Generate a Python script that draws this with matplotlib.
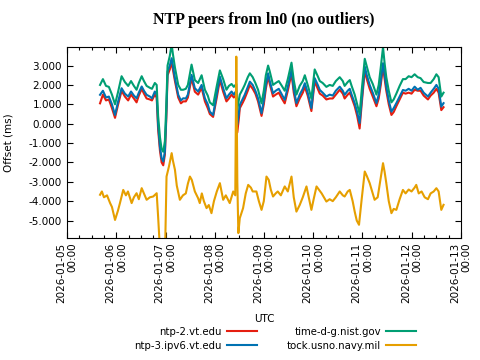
import matplotlib
matplotlib.use('Agg')
import matplotlib.pyplot as plt
import matplotlib.dates as mdates
import matplotlib.ticker as mticker
import numpy as np
import pandas as pd

start = pd.Timestamp('2026-01-05 00:00')

# hours after 2026-01-05 00:00 UTC for the vt.edu / nist samples
hours = [16.1, 17.5, 19.0, 20.4, 21.9, 23.4, 24.8, 26.6, 28.2, 29.8, 31.2, 32.6, 33.9, 35.0,
         36.4, 37.5, 38.8, 40.4, 41.4, 42.8, 43.7, 44.4, 45.3, 46.1, 46.9, 47.7, 48.4, 49.0,
         50.1, 51.0, 51.6, 52.6, 54.2, 55.5, 56.6, 57.9, 58.9, 60.7, 62.3, 63.9, 65.6, 67.2,
         68.6, 69.6, 71.2, 72.9, 74.5, 76.1, 77.7, 78.9, 80.2, 81.3, 82.5, 82.9, 83.7, 84.2,
         85.7, 86.6, 88.1, 89.1, 90.5, 91.8, 93.1, 94.8, 95.9, 96.9, 98.0, 98.8, 100.4, 101.7,
         103.2, 104.7, 106.1, 107.6, 109.4, 110.5, 111.8, 113.4, 114.9, 115.9, 117.3, 119.1,
         120.7, 122.2, 123.2, 124.6, 126.4, 128.0, 129.5, 131.0, 132.9, 134.4, 135.3, 136.8,
         137.8, 138.7, 140.2, 141.4, 142.6, 143.6, 145.1, 146.1, 147.5, 149.0, 150.8, 151.9,
         152.9, 154.0, 154.8, 155.6, 156.8, 158.1, 159.2, 160.5, 162.1, 163.7, 165.0, 166.5,
         167.9, 169.4, 170.9, 172.3, 173.8, 175.9, 177.2, 178.7, 180.0, 181.1, 182.4, 183.5]

ntp2 = [1.05, 1.5, 1.2, 1.25, 0.8, 0.3, 0.95, 1.7, 1.4, 1.2, 1.5, 1.3, 1.1, 1.45,
        1.8, 1.55, 1.3, 1.25, 1.2, 1.5, 1.35, -0.3, -1.4, -2.0, -2.15, -1.6, 0.3, 2.5,
        2.8, 3.2, 2.8, 2.2, 1.35, 1.05, 1.15, 1.15, 1.35, 2.35, 1.65, 1.5, 1.85, 1.15,
        0.8, 0.5, 0.35, 1.3, 2.25, 1.65, 1.15, 1.3, 1.5, 1.35, 1.5, -0.47, 0.2, 0.8,
        1.1, 1.3, 1.7, 2.0, 1.8, 1.55, 1.15, 0.4, 1.0, 1.8, 2.45, 2.05, 1.4, 1.5,
        1.6, 1.3, 1.05, 1.7, 2.6, 1.6, 0.9, 1.3, 1.6, 1.9, 1.45, 0.65,
        2.2, 1.8, 1.55, 1.45, 1.25, 1.3, 1.3, 1.5, 1.75, 1.55, 1.3, 1.5,
        1.6, 1.35, 0.9, 0.4, -0.25, 1.0, 2.75, 2.3, 1.8, 1.4, 0.9, 1.3,
        2.0, 2.95, 2.3, 1.7, 1.0, 0.45, 0.6, 0.9, 1.25, 1.6, 1.55, 1.6,
        1.55, 1.75, 1.7, 1.7, 1.45, 1.25, 1.45, 1.6, 1.8, 1.6, 0.7, 0.85]

ntp3 = [1.49, 1.7, 1.35, 1.4, 1.0, 0.45, 1.1, 1.83, 1.55, 1.4, 1.66, 1.45, 1.31, 1.6,
        1.92, 1.7, 1.49, 1.4, 1.31, 1.66, 1.5, -0.06, -1.2, -1.78, -1.95, -1.44, 0.5, 2.69,
        3.0, 3.38, 3.0, 2.35, 1.49, 1.2, 1.31, 1.3, 1.5, 2.52, 1.83, 1.66, 2.0, 1.31,
        1.0, 0.62, 0.45, 1.49, 2.43, 1.83, 1.31, 1.5, 1.66, 1.5, 1.7, -0.06, 0.5, 0.97,
        1.3, 1.49, 1.9, 2.17, 2.0, 1.7, 1.31, 0.54, 1.2, 2.0, 2.6, 2.2, 1.57, 1.7,
        1.8, 1.5, 1.23, 1.9, 2.78, 1.8, 1.06, 1.5, 1.8, 2.09, 1.6, 0.8,
        2.35, 2.0, 1.74, 1.6, 1.4, 1.5, 1.45, 1.7, 1.91, 1.7, 1.49, 1.7,
        1.8, 1.5, 1.06, 0.6, 0.03, 1.2, 2.95, 2.5, 2.0, 1.6, 1.06, 1.5,
        2.2, 3.12, 2.5, 1.91, 1.2, 0.62, 0.8, 1.06, 1.4, 1.74, 1.7, 1.8,
        1.7, 1.91, 1.75, 1.85, 1.6, 1.4, 1.6, 1.8, 2.0, 1.8, 0.88, 1.06]

nist = [2.0, 2.3, 1.95, 1.9, 1.5, 1.0, 1.6, 2.45, 2.15, 1.95, 2.2, 1.95, 1.75, 2.1,
        2.45, 2.2, 1.95, 1.85, 1.8, 2.1, 2.0, 0.4, -0.7, -1.3, -1.45, -0.9, 1.0, 3.0,
        3.5, 4.1, 3.6, 2.9, 2.0, 1.75, 1.75, 1.8, 2.0, 3.05, 2.25, 2.1, 2.5, 1.75,
        1.45, 1.1, 0.95, 1.9, 2.75, 2.3, 1.75, 1.95, 2.05, 1.9, 2.05, 0.7, 1.2, 1.5,
        1.8, 2.0, 2.4, 2.6, 2.4, 2.1, 1.75, 1.05, 1.7, 2.5, 3.0, 2.7, 2.0, 2.1,
        2.2, 1.95, 1.7, 2.3, 3.15, 2.25, 1.5, 1.95, 2.2, 2.5, 2.0, 1.3,
        2.8, 2.45, 2.2, 2.1, 1.9, 2.0, 1.95, 2.2, 2.4, 2.2, 1.95, 2.15,
        2.25, 1.95, 1.5, 1.0, 0.5, 1.7, 3.35, 2.95, 2.4, 2.05, 1.5, 2.0,
        2.9, 3.95, 3.1, 2.4, 1.7, 1.1, 1.25, 1.55, 1.95, 2.3, 2.3, 2.45,
        2.4, 2.55, 2.4, 2.35, 2.15, 2.1, 2.1, 2.3, 2.55, 2.4, 1.4, 1.6]

# tock.usno.navy.mil has its own sample times
tock_hours = [16.1, 17.0, 18.0, 19.5, 21.0, 21.9, 23.4, 24.8, 25.8, 27.4, 28.7, 29.7, 31.5, 32.6,
              33.9, 35.0, 36.4, 37.5, 38.8, 40.4, 42.0, 43.7, 44.4, 45.3, 46.7, 47.9, 48.5, 49.7,
              51.0, 51.6, 52.6, 53.5, 55.0, 56.5, 57.9, 58.9, 59.9, 60.8, 62.3, 63.9, 64.7, 65.7,
              66.7, 68.0, 69.1, 70.4, 71.6, 73.0, 74.5, 76.1, 77.4, 79.3, 81.0, 82.0, 82.5, 83.0,
              83.5, 84.2, 85.8, 87.1, 88.3, 89.6, 90.5, 92.3, 93.5, 94.8, 95.9, 97.2, 98.3, 99.3,
              100.4, 101.7, 102.7, 104.2, 106.1, 107.6, 109.4, 110.5, 111.8, 113.4, 114.9, 116.7,
              117.8, 119.1, 120.2, 121.6, 122.7, 124.1, 126.4, 128.0, 129.5, 131.0, 132.9, 134.4,
              135.3, 136.8, 137.8, 139.2, 140.2, 141.2, 142.3, 143.6, 145.1, 146.1, 147.5, 149.0,
              149.9, 151.4, 152.9, 154.0, 154.8, 155.6, 156.8, 158.1, 159.2, 160.5, 162.1, 163.7,
              165.0, 166.5, 167.9, 169.4, 170.2, 171.4, 172.8, 174.3, 175.9, 177.2, 178.7, 180.0,
              181.1, 182.4, 183.5]

tock = [-3.67, -3.5, -3.8, -3.7, -4.1, -4.3, -4.97, -4.5, -4.1, -3.42, -3.7, -3.5, -4.1, -3.8,
        -3.59, -3.9, -3.33, -3.6, -3.93, -3.8, -3.76, -3.59, -4.8, -6.5, -7.0, -6.0, -2.73, -2.2,
        -1.52, -1.9, -2.38, -3.2, -3.93, -3.7, -3.6, -3.1, -2.73, -2.9, -3.5, -3.85, -4.1, -3.6,
        -4.0, -4.36, -4.2, -4.62, -4.0, -3.5, -3.07, -3.93, -3.7, -4.1, -3.5, -3.7, 3.46, -3.0,
        -5.65, -4.88, -4.36, -3.6, -3.16, -3.3, -3.5, -3.5, -4.0, -4.45, -4.0, -2.73, -2.9, -3.4,
        -3.76, -3.6, -3.5, -3.7, -3.24, -3.5, -2.73, -3.8, -4.54, -4.2, -3.8, -3.24,
        -3.8, -4.45, -3.9, -3.24, -3.4, -3.6, -4.02, -3.9, -4.0, -3.8, -3.5, -3.7,
        -3.76, -3.5, -3.42, -4.0, -4.54, -5.0, -5.22, -3.9, -2.47, -2.7, -3.07, -3.6,
        -3.93, -3.8, -2.8, -2.04, -2.5, -3.07, -4.0, -4.62, -4.4, -4.45, -3.9, -3.42,
        -3.6, -3.4, -3.5, -3.3, -3.16, -3.6, -3.5, -3.8, -3.9, -3.6, -3.5, -3.33,
        -3.5, -4.45, -4.19]

t = start + pd.to_timedelta(hours, unit='h')
t_tock = start + pd.to_timedelta(tock_hours, unit='h')

fig = plt.figure(figsize=(4.8, 3.6), dpi=100)
ax = fig.add_axes([0.1396, 0.339, 0.8208, 0.530])

ax.plot(t, ntp2, color='#e51e10', lw=1.5, label='ntp-2.vt.edu')
ax.plot(t, ntp3, color='#0072b2', lw=1.5, label='ntp-3.ipv6.vt.edu')
ax.plot(t, nist, color='#009e73', lw=1.5, label='time-d-g.nist.gov')
ax.plot(t_tock, tock, color='#e69f00', lw=1.5, label='tock.usno.navy.mil')

ax.set_xlim(pd.Timestamp('2026-01-05'), pd.Timestamp('2026-01-13'))
ax.set_ylim(-5.9, 3.95)
ax.set_yticks(np.arange(-5, 4, 1))
ax.yaxis.set_major_formatter(mticker.FuncFormatter(lambda v, p: '%.3f' % v))
ax.xaxis.set_major_locator(mdates.DayLocator())
ax.xaxis.set_minor_locator(mdates.HourLocator(byhour=[6, 12, 18]))
ax.xaxis.set_major_formatter(mdates.DateFormatter('%Y-%m-%d\n%H:%M'))
ax.tick_params(which='both', direction='in', top=True, right=True, labelsize=7.5)
ax.tick_params(which='major', length=4, width=0.8)
ax.tick_params(which='minor', length=2.5, width=0.8)
for lab in ax.get_xticklabels():
    lab.set_rotation(90)
    lab.set_ha('center')
    lab.set_va('top')
    lab.set_multialignment('right')

ax.set_ylabel('Offset (ms)', fontsize=7.5)
ax.yaxis.set_label_coords(-0.137, 0.5)
ax.set_xlabel('UTC', fontsize=7.5, labelpad=8)
ax.set_title('NTP peers from ln0 (no outliers)', fontsize=11.5, fontweight='bold',
             family='Liberation Serif', pad=17)

fig.legend(loc='upper center', bbox_to_anchor=(0.574, 0.107), ncol=2,
           frameon=False, markerfirst=False, fontsize=7.3, handlelength=3.0,
           handletextpad=0.5, columnspacing=2.9, labelspacing=0.4,
           borderpad=0.0)

fig.savefig('out.png', dpi=100)
